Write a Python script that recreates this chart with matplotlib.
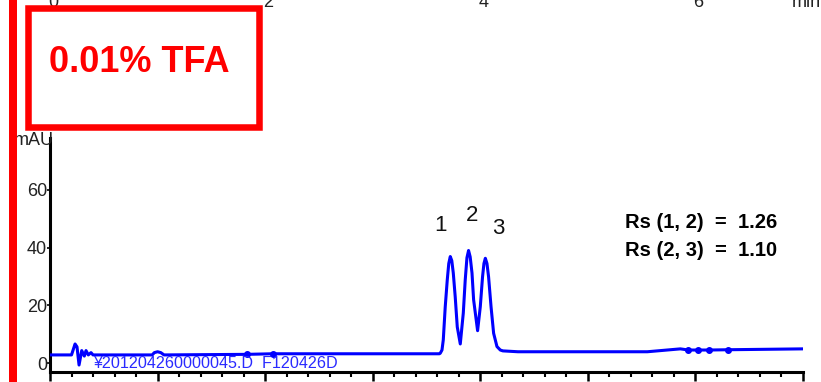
import matplotlib
matplotlib.use('Agg')
import matplotlib.pyplot as plt
from matplotlib.patches import Rectangle
from matplotlib.transforms import blended_transform_factory
from matplotlib.ticker import MultipleLocator

plt.rcParams['font.family'] = ['Liberation Sans', 'DejaVu Sans']

# chromatogram trace (time in min, signal in mAU)
trace_t = [0.00, 0.20, 0.233, 0.251, 0.270, 0.295, 0.319, 0.335, 0.356, 0.381, 0.40,
           0.95, 0.97, 1.00, 1.03, 1.06, 1.833, 2.07, 3.62,
           3.628, 3.644, 3.656, 3.674, 3.693, 3.707, 3.721, 3.735, 3.749, 3.767, 3.786,
           3.814, 3.842, 3.860, 3.876, 3.891, 3.906, 3.923, 3.938, 3.975, 4.000,
           4.021, 4.034, 4.047, 4.062, 4.077, 4.100, 4.124, 4.155, 4.186, 4.21,
           4.35, 5.395, 5.553, 5.86, 5.935, 6.028, 6.13, 6.307, 7.0]
trace_v = [2.8, 2.8, 6.6, 5.6, -0.7, 4.3, 2.4, 4.3, 2.8, 3.6, 2.8,
           2.8, 3.6, 3.9, 3.6, 2.8, 3.0, 3.2, 3.2,
           3.4, 4.5, 8.0, 19.4, 28.8, 34.5, 36.9, 35.5, 31.2, 22.9, 12.5,
           6.6, 17.3, 28.8, 36.5, 39.0, 36.8, 31.2, 21.9, 11.2, 19.5,
           29.9, 34.5, 36.3, 34.5, 29.9, 19.5, 10.3, 5.7, 4.5, 4.2,
           3.9, 3.9, 3.9, 4.9, 4.5, 4.5, 4.5, 4.6, 4.9]

# integration marks shown as small blobs on the trace
mark_t = [1.833, 2.07, 5.935, 6.028, 6.13, 6.307]
mark_v = [3.0, 3.2, 4.5, 4.5, 4.5, 4.6]

peak_labels = ['1', '2', '3']
peak_label_t = [3.63, 3.92, 4.17]
peak_label_v = [47.5, 51.0, 46.5]

rs_lines = ['Rs (1, 2)  =  1.26', 'Rs (2, 3)  =  1.10']
y_ticks = [0, 20, 40, 60]
top_labels = ['0', '2', '4', '6']
top_label_t = [0, 2, 4, 6]

W, H = 821, 382
fig = plt.figure(figsize=(W / 100, H / 100), dpi=100)
fig.patch.set_facecolor('white')

ax = fig.add_axes([50 / W, (H - 372) / H, 753 / W, 234 / H])
ax.plot(trace_t, trace_v, color='#0000ff', lw=2.2, solid_joinstyle='round', zorder=3)
ax.plot(mark_t, mark_v, 'o', color='#0000ff', ms=4, zorder=3)
ax.set_xlim(0, 7.0)
ax.set_ylim(-3.12, 78.0)

for s in ['top', 'right']:
    ax.spines[s].set_visible(False)
for s in ['left', 'bottom']:
    ax.spines[s].set_linewidth(2.2)
    ax.spines[s].set_color('black')

ax.xaxis.set_major_locator(MultipleLocator(1))
ax.xaxis.set_minor_locator(MultipleLocator(0.2))
ax.tick_params(axis='x', which='major', direction='out', length=6.5, width=1.8, labelbottom=False)
ax.tick_params(axis='x', which='minor', direction='out', length=3.5, width=1.5)
ax.set_yticks(y_ticks)
ax.tick_params(axis='y', direction='out', length=2, width=1.2, pad=0, labelsize=13, labelcolor='#222222')

for lab, t, v in zip(peak_labels, peak_label_t, peak_label_v):
    ax.text(t, v, lab, fontsize=16, ha='center', va='center', color='#111111')

fig.text(625 / W, 1 - 222 / H, rs_lines[0], fontsize=14.5, fontweight='bold', ha='left', va='center')
fig.text(625 / W, 1 - 251 / H, rs_lines[1], fontsize=14.5, fontweight='bold', ha='left', va='center')

fig.text(93 / W, 1 - 364 / H, '\u00a5201204260000045.D  F120426D', fontsize=11.6,
         color='#2a2aff', ha='left', va='center')

fig.text(54 / W, 1 - 140 / H, 'mAU', fontsize=13, ha='right', va='center', color='#222222')

# tick labels of the panel above, mostly cut off by the top edge
tr = blended_transform_factory(ax.transData, fig.transFigure)
for lab, t in zip(top_labels, top_label_t):
    ax.text(t + 0.03, 1 - 7 / H, lab, fontsize=13, ha='center', va='baseline',
            transform=tr, clip_on=False, color='#222222')
fig.text(792 / W, 1 - 7 / H, 'min', fontsize=13, ha='left', va='baseline', color='#222222')

# red side bar and boxed label
fig.patches.append(Rectangle((9 / W, 0), 8 / W, 1, transform=fig.transFigure,
                             facecolor='#ff0000', edgecolor='none', zorder=10))
fig.patches.append(Rectangle((28 / W, 1 - 127 / H), 231 / W, 119 / H, transform=fig.transFigure,
                             facecolor='white', edgecolor='#ff0000', lw=4.7, zorder=10))
fig.text(139 / W, 1 - 63 / H, '0.01% TFA', fontsize=26, fontweight='bold', color='#ff0000',
         ha='center', va='center', zorder=11)

fig.savefig('out.png', dpi=100)
